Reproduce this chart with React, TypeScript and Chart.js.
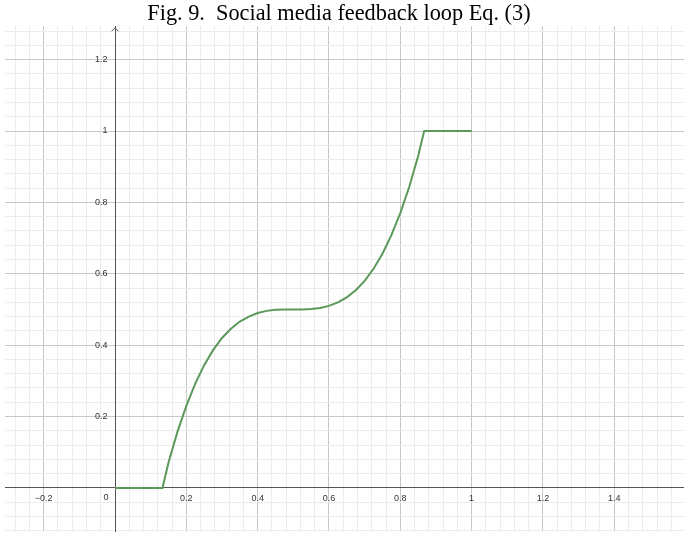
import { useEffect, useRef } from 'react';
import { Chart, registerables } from 'chart.js';

Chart.register(...registerables);

const titleText = 'Fig. 9.  Social media feedback loop Eq. (3)';

// curve points
const curveX = [0, 0.133, 0.15, 0.175, 0.2, 0.225, 0.25, 0.275, 0.3, 0.325, 0.35, 0.375, 0.4, 0.425, 0.45, 0.475, 0.5, 0.525, 0.55, 0.575, 0.6, 0.625, 0.65, 0.675, 0.7, 0.725, 0.75, 0.775, 0.8, 0.825, 0.85, 0.867, 1];
const curveY = [0, 0, 0.071, 0.157, 0.23, 0.292, 0.344, 0.386, 0.42, 0.446, 0.466, 0.48, 0.49, 0.496, 0.499, 0.5, 0.5, 0.5, 0.501, 0.504, 0.51, 0.52, 0.534, 0.554, 0.58, 0.614, 0.656, 0.708, 0.77, 0.843, 0.929, 1, 1];

const xTickValues = [-0.2, 0.2, 0.4, 0.6, 0.8, 1, 1.2, 1.4];
const xTickTexts = ['\u22120.2', '0.2', '0.4', '0.6', '0.8', '1', '1.2', '1.4'];
const yTickValues = [0.2, 0.4, 0.6, 0.8, 1, 1.2];
const yTickTexts = ['0.2', '0.4', '0.6', '0.8', '1', '1.2'];

const xMin = -0.3085;
const xMax = 1.5956;
const yMin = -0.1225;
const yMax = 1.2934;
const gridStep = 0.04;

const labelFont = { family: '"Liberation Sans", Arial, sans-serif', size: 9 };

function findLabel(v: number, vals: number[], texts: string[]) {
  for (let i = 0; i < vals.length; i++) if (Math.abs(vals[i] - v) < 1e-6) return texts[i];
  return '';
}
function isMajor(v: number) {
  return Math.round(v * 100) % 20 === 0;
}
function gridColor(ctx: any) {
  const v = ctx.tick ? ctx.tick.value : NaN;
  if (Math.abs(v) < 1e-9) return 'rgba(0,0,0,0)';
  return isMajor(v) ? '#c8c8c8' : '#ececec';
}

const extras = {
  id: 'extras',
  afterDraw(chart: any) {
    const { ctx, chartArea, scales } = chart;
    const x0 = scales.x.getPixelForValue(0);
    const y0 = scales.y.getPixelForValue(0);
    ctx.save();
    ctx.fillStyle = '#333';
    ctx.font = '9px "Liberation Sans", Arial, sans-serif';
    ctx.textAlign = 'right';
    ctx.textBaseline = 'middle';
    ctx.fillText('0', x0 - 6.5, y0 + 10);
    ctx.strokeStyle = '#555';
    ctx.lineWidth = 1;
    ctx.beginPath();
    ctx.moveTo(x0 - 3.5, chartArea.top + 5);
    ctx.lineTo(x0, chartArea.top + 1.5);
    ctx.lineTo(x0 + 3.5, chartArea.top + 5);
    ctx.stroke();
    ctx.restore();
  },
};

export default function App() {
  const ref = useRef<HTMLCanvasElement | null>(null);
  useEffect(() => {
    if (!ref.current) return;
    const chart = new Chart(ref.current, {
      type: 'line',
      data: {
        datasets: [
          {
            data: curveX.map((x, i) => ({ x, y: curveY[i] })),
            borderColor: '#5a995a',
            borderWidth: 2,
            pointRadius: 0,
            tension: 0,
            fill: false,
          },
        ],
      },
      options: {
        animation: false,
        responsive: true,
        maintainAspectRatio: false,
        layout: { padding: { left: 5, right: 0, top: 0, bottom: 0 } },
        plugins: {
          legend: { display: false },
          tooltip: { enabled: false },
          title: {
            display: true,
            text: titleText + '  ',
            color: '#000',
            font: { family: '"Liberation Serif", "Times New Roman", serif', size: 22.3, weight: 'normal', lineHeight: 1 },
            padding: { top: 3, bottom: 1 },
          },
        },
        scales: {
          x: {
            type: 'linear',
            position: { y: 0 } as any,
            min: xMin,
            max: xMax,
            grid: { color: gridColor, lineWidth: 1, drawTicks: false },
            border: { display: true, color: '#555', width: 1 },
            ticks: {
              stepSize: gridStep,
              includeBounds: false,
              autoSkip: false,
              maxRotation: 0,
              padding: 5,
              color: '#333',
              font: labelFont,
              callback: (v: any) => findLabel(Number(v), xTickValues, xTickTexts),
            },
          },
          y: {
            type: 'linear',
            position: { x: 0 } as any,
            min: yMin,
            max: yMax,
            grid: { color: gridColor, lineWidth: 1, drawTicks: false },
            border: { display: true, color: '#555', width: 1 },
            ticks: {
              stepSize: gridStep,
              includeBounds: false,
              autoSkip: false,
              padding: 7,
              color: '#333',
              font: labelFont,
              callback: (v: any) => {
                const t = findLabel(Number(v), yTickValues, yTickTexts);
                return t ? t + '   ' : '';
              },
            },
          },
        },
      },
      plugins: [extras],
    });
    return () => chart.destroy();
  }, []);
  return (
    <div style={{ position: 'absolute', left: 0, top: 0, width: 684, height: 535, overflow: 'hidden', background: '#fff' }}>
      <div style={{ position: 'relative', width: 684, height: 544 }}>
        <canvas ref={ref} />
      </div>
    </div>
  );
}
